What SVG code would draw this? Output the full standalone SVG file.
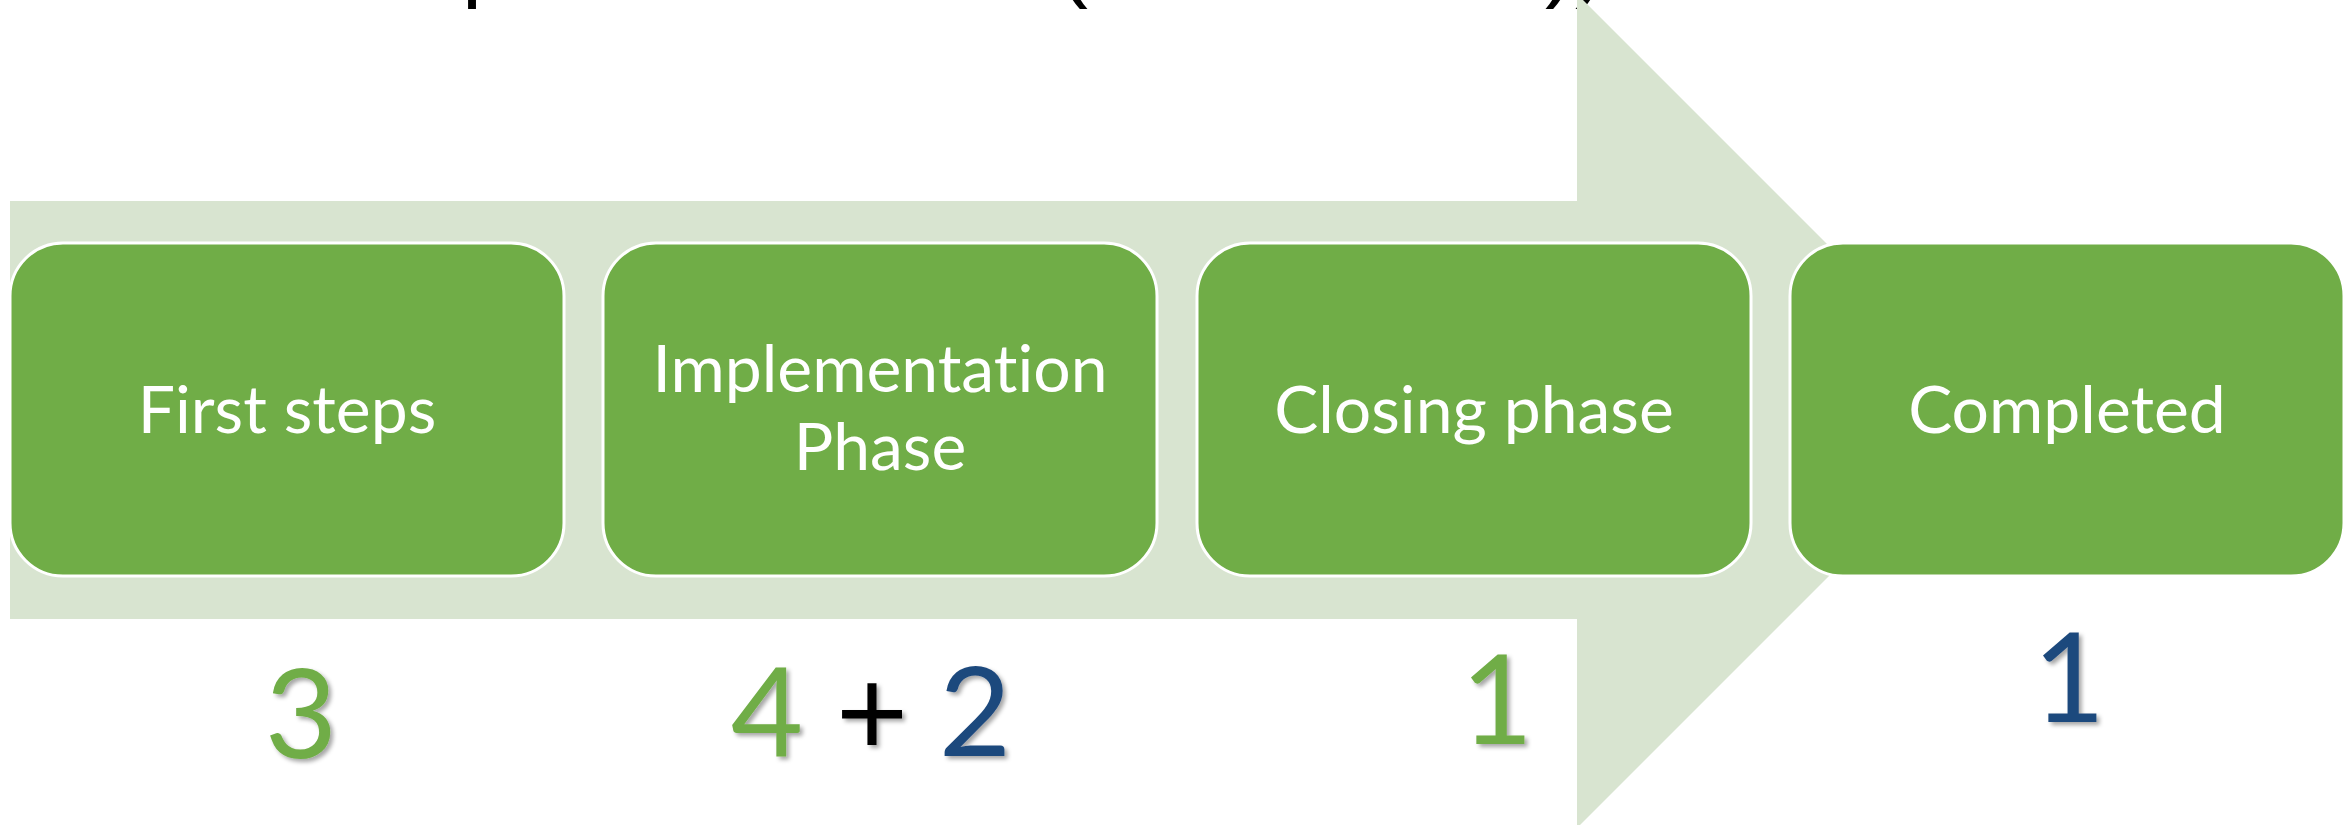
<svg xmlns="http://www.w3.org/2000/svg" width="2348" height="825" viewBox="0 0 2348 825">
  <defs>
    <filter id="shadow" x="-30%" y="-30%" width="160%" height="160%">
      <feDropShadow dx="3" dy="3" stdDeviation="2" flood-color="#000" flood-opacity="0.35"/>
    </filter>
  </defs>
  <style>
    .box { fill: #70AD47; stroke: #FFFFFF; stroke-width: 3; }
    .lbl { font-family: Lato, "Open Sans", "Liberation Sans", sans-serif; font-size: 66px; fill: #FFFFFF; text-anchor: middle; font-variant-ligatures: none; font-feature-settings: "liga" 0, "dlig" 0; }
    .num { font-family: Lato, "Open Sans", "Liberation Sans", sans-serif; font-size: 125px; text-anchor: middle; filter: url(#shadow); }
    .g { fill: #70AD47; }
    .b { fill: #1F497D; }
    .k { fill: #000000; }
    .title { font-family: "Liberation Sans", Arial, sans-serif; font-size: 90px; fill: #000000; }
  </style>
  <rect x="0" y="0" width="2348" height="825" fill="#FFFFFF"/>

  <g id="title-fragment">
    <text class="title" x="462" y="-10">p</text>
    <text class="title" x="1058" y="-10">(</text>
    <text class="title" x="1545" y="-10">))</text>
  </g>

  <g id="connectors">
    <polygon id="process-arrow" points="10,201 1577,201 1577,-6 1994,411 1577,828 1577,619 10,619" fill="#D8E4D0"/>
  </g>

  <g id="node-first-steps">
    <rect class="box" x="10" y="243" width="554" height="333" rx="53" ry="53"/>
    <text class="lbl" x="287" y="433">First steps</text>
  </g>

  <g id="node-implementation">
    <rect class="box" x="603" y="243" width="554" height="333" rx="53" ry="53"/>
    <text class="lbl" x="880" y="392">Implementation</text>
    <text class="lbl" x="880" y="470">Phase</text>
  </g>

  <g id="node-closing">
    <rect class="box" x="1197" y="243" width="554" height="333" rx="53" ry="53"/>
    <text class="lbl" x="1474" y="433">Closing phase</text>
  </g>

  <g id="node-completed">
    <rect class="box" x="1790" y="243" width="554" height="333" rx="53" ry="53"/>
    <text class="lbl" x="2067" y="433">Completed</text>
  </g>

  <g id="counts">
    <text class="num g" x="301" y="758">3</text>
    <text class="num g" x="767" y="756">4</text>
    <text class="num k" x="872" y="756">+</text>
    <text class="num b" x="975" y="756">2</text>
    <text class="num g" x="1497" y="744">1</text>
    <text class="num b" x="2069" y="722">1</text>
  </g>
</svg>
